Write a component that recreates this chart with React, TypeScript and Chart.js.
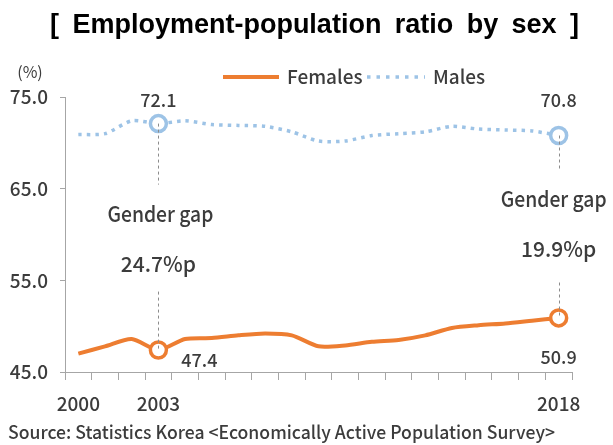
import { useEffect, useRef } from "react";
import { Chart, registerables } from "chart.js";

Chart.register(...registerables);

const titleText = "[ Employment-population ratio by sex ]";
const unitLabel = "(%)";
const sourceText = "Source: Statistics Korea <Economically Active Population Survey>";
const years = [
  "2000", "2001", "2002", "2003", "2004", "2005", "2006", "2007", "2008", "2009",
  "2010", "2011", "2012", "2013", "2014", "2015", "2016", "2017", "2018",
];
const femaleValues = [
  47.0, 47.8, 48.6, 47.4, 48.6, 48.7, 49.0, 49.2, 49.0, 47.8,
  47.9, 48.3, 48.5, 49.0, 49.8, 50.1, 50.3, 50.6, 50.9,
];
const maleValues = [
  70.9, 71.0, 72.4, 72.1, 72.4, 72.0, 71.9, 71.8, 71.2, 70.2,
  70.2, 70.8, 71.0, 71.2, 71.8, 71.5, 71.4, 71.3, 70.8,
];
const yMin = 45;
const yMax = 75;
const yStep = 10;
const labeledYears = ["2000", "2003", "2018"];
const highlightYears = ["2003", "2018"];
const gapTitle = "Gender gap";
const gapLabels = ["24.7%p", "19.9%p"];

const FONT = '"Noto Sans CJK KR", "Noto Sans", sans-serif';
const TEXT = "#3c3c3c";
const FEMALE = "#ed7d31";
const MALE = "#9dc3e6";
const AXIS = "#a6a6a6";

// callout layout, offsets in px relative to the male point of each highlighted year
const calloutLayout = [
  { maleLineEnd: 61, titleDx: 2, titleY: 98, valueY: 148, femaleLineStart: 168, femDx: 41, femDy: 17 },
  { maleLineEnd: 35, titleDx: -5, titleY: 71, valueY: 121, femaleLineStart: 147, femDx: 0, femDy: 46 },
];

const overlay = {
  id: "overlay",
  afterDatasetsDraw(chart: any) {
    const { ctx, scales } = chart;
    const x = scales.x;
    const y = scales.y;
    ctx.save();
    highlightYears.forEach((yr, k) => {
      const i = years.indexOf(yr);
      const L = calloutLayout[k];
      const px = x.getPixelForValue(i);
      const yM = y.getPixelForValue(maleValues[i]);
      const yF = y.getPixelForValue(femaleValues[i]);
      const lx = Math.round(px) + 0.5;
      ctx.strokeStyle = "#8c8c8c";
      ctx.lineWidth = 1;
      ctx.setLineDash([3, 3]);
      ctx.beginPath();
      ctx.moveTo(lx, yM);
      ctx.lineTo(lx, yM + L.maleLineEnd);
      ctx.moveTo(lx, yM + L.femaleLineStart);
      ctx.lineTo(lx, yF);
      ctx.stroke();
      ctx.setLineDash([]);
      ctx.fillStyle = TEXT;
      ctx.textAlign = "center";
      ctx.textBaseline = "alphabetic";
      ctx.font = `500 18px ${FONT}`;
      ctx.fillText(maleValues[i].toFixed(1), px, y.top + 10);
      ctx.font = `500 22px ${FONT}`;
      ctx.fillText(gapTitle, px + L.titleDx, yM + L.titleY, 106);
      ctx.font = `500 21px ${FONT}`;
      ctx.fillText(gapLabels[k], px, yM + L.valueY);
      ctx.font = `500 18px ${FONT}`;
      ctx.fillText(femaleValues[i].toFixed(1), px + L.femDx, yF + L.femDy);
    });
    ctx.restore();
  },
  afterDraw(chart: any) {
    const { ctx, data } = chart;
    ctx.save();
    // title with spread words
    ctx.font = `bold 27px "Liberation Sans", Arial, sans-serif`;
    ctx.fillStyle = "#000";
    ctx.textBaseline = "alphabetic";
    ctx.textAlign = "left";
    const words = titleText.split(" ");
    const wordsW = words.reduce((s: number, w: string) => s + ctx.measureText(w).width, 0);
    const left = 50, right = 579;
    const gap = (right - left - wordsW) / (words.length - 1);
    let cx = left;
    words.forEach((w: string) => {
      ctx.fillText(w, cx, 33);
      cx += ctx.measureText(w).width + gap;
    });
    // unit
    ctx.textBaseline = "middle";
    ctx.font = `16px ${FONT}`;
    ctx.fillStyle = TEXT;
    ctx.textAlign = "center";
    ctx.fillText(unitLabel, 30, 72);
    // legend
    const ds = data.datasets;
    const ly = 77;
    ctx.lineWidth = 4;
    ctx.strokeStyle = ds[0].borderColor;
    ctx.beginPath();
    ctx.moveTo(223, ly);
    ctx.lineTo(279, ly);
    ctx.stroke();
    ctx.textAlign = "left";
    ctx.font = `500 19px ${FONT}`;
    ctx.fillStyle = TEXT;
    ctx.fillText(ds[0].label, 287, ly);
    ctx.lineWidth = 3.5;
    ctx.strokeStyle = ds[1].borderColor;
    ctx.setLineDash([3.5, 6]);
    ctx.beginPath();
    ctx.moveTo(367, ly);
    ctx.lineTo(425, ly);
    ctx.stroke();
    ctx.setLineDash([]);
    ctx.fillText(ds[1].label, 433, ly);
    // source
    ctx.font = `500 18px ${FONT}`;
    ctx.fillStyle = TEXT;
    ctx.fillText(sourceText, 8, 432, 547);
    ctx.restore();
  },
};

export default function App() {
  const ref = useRef<HTMLCanvasElement | null>(null);
  useEffect(() => {
    if (!ref.current) return;
    const hl = (i: number) => (highlightYears.includes(years[i]) ? 8 : 0);
    const chart = new Chart(ref.current, {
      type: "line",
      data: {
        labels: years,
        datasets: [
          {
            label: "Females",
            data: femaleValues,
            borderColor: FEMALE,
            borderWidth: 4,
            tension: 0.25,
            pointRadius: (c: any) => hl(c.dataIndex),
            pointBorderWidth: 3.5,
            pointBorderColor: FEMALE,
            pointBackgroundColor: "#ffffff",
            pointHoverRadius: 0,
          },
          {
            label: "Males",
            data: maleValues,
            borderColor: MALE,
            borderWidth: 3.5,
            borderDash: [3.5, 5],
            tension: 0.25,
            pointRadius: (c: any) => hl(c.dataIndex),
            pointBorderWidth: 3.5,
            pointBorderColor: MALE,
            pointBackgroundColor: "#ffffff",
            pointHoverRadius: 0,
          },
        ],
      },
      options: {
        animation: false,
        responsive: false,
        maintainAspectRatio: false,
        events: [],
        layout: { padding: { top: 97, right: 41, left: 0, bottom: 0 } },
        plugins: { legend: { display: false }, tooltip: { enabled: false } },
        scales: {
          x: {
            type: "category",
            offset: true,
            grid: { offset: true, drawOnChartArea: false, drawTicks: true, tickLength: 8, color: AXIS },
            border: { color: AXIS, width: 1 },
            ticks: {
              autoSkip: false,
              maxRotation: 0,
              padding: 12,
              color: TEXT,
              font: { family: FONT, size: 19, weight: "500" },
              callback: (_v: any, i: number) => (labeledYears.includes(years[i]) ? years[i] : ""),
            },
            afterFit: (s: any) => { s.height = 73; },
          },
          y: {
            min: yMin,
            max: yMax,
            grid: { drawOnChartArea: false, drawTicks: true, tickLength: 5, color: AXIS },
            border: { color: AXIS, width: 1 },
            ticks: {
              stepSize: yStep,
              padding: 12,
              color: TEXT,
              font: { family: FONT, size: 19, weight: "500" },
              callback: (v: any) => Number(v).toFixed(1),
            },
            afterFit: (s: any) => { s.width = 65; },
          },
        },
      },
      plugins: [overlay],
    } as any);
    return () => chart.destroy();
  }, []);
  return (
    <div style={{ position: "absolute", left: 0, top: 0, width: 613, height: 445, background: "#fff" }}>
      <canvas ref={ref} width={613} height={445} style={{ display: "block" }} />
    </div>
  );
}
